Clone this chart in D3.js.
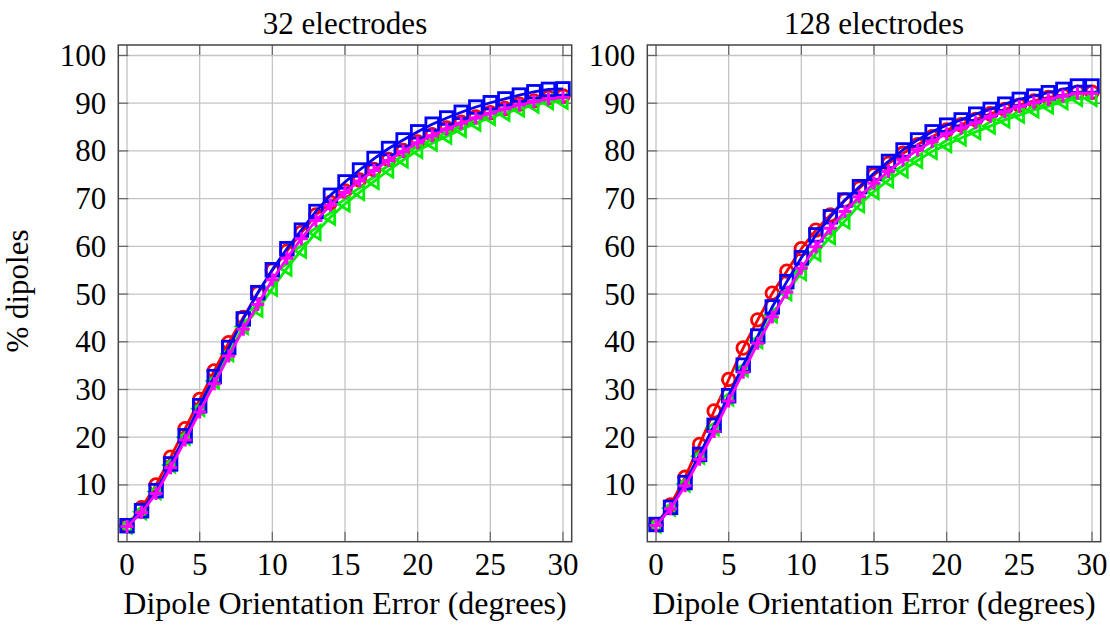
<!DOCTYPE html>
<html>
<head>
<meta charset="utf-8">
<script src="https://cdn.jsdelivr.net/npm/d3@7"></script>
<style>
  body { margin: 0; background: #fff; }
  text { font-family: "Liberation Serif", "DejaVu Serif", serif; fill: #000; }
</style>
</head>
<body>
<svg id="chart" width="1110" height="625"></svg>
<script>
// error in degrees, 0..30
var errors = d3.range(0, 31);
var xTicks = [0, 5, 10, 15, 20, 25, 30];
var yTicks = [10, 20, 30, 40, 50, 60, 70, 80, 90, 100];
var titles = ["32 electrodes", "128 electrodes"];

// 32 electrodes
var red32     = [1.5, 5.2, 10.0, 15.8, 21.8, 27.9, 33.9, 39.8, 45.1, 50.2, 55.0, 59.0, 62.9, 66.6, 69.2, 71.6, 73.9, 76.1, 78.2, 80.1, 81.9, 83.4, 84.8, 86.0, 87.1, 88.0, 88.9, 89.8, 90.5, 91.2, 91.5];
var green32   = [1.4, 4.4, 8.6, 14.2, 20.0, 26.0, 31.8, 37.5, 43.2, 46.8, 51.2, 55.4, 59.2, 62.9, 66.1, 68.9, 71.3, 73.6, 76.0, 78.1, 80.1, 81.6, 83.1, 84.5, 85.8, 87.0, 87.9, 88.8, 89.6, 90.3, 90.4];
var blue32    = [1.45, 4.6, 8.8, 14.4, 20.3, 26.6, 32.7, 38.8, 44.8, 50.3, 55.1, 59.5, 63.4, 67.3, 70.7, 73.5, 76.0, 78.4, 80.5, 82.3, 84.0, 85.6, 86.9, 88.1, 89.2, 90.1, 90.9, 91.7, 92.4, 92.9, 93.0];
var magenta32 = [1.3, 4.2, 8.2, 13.6, 19.4, 25.3, 31.2, 37.0, 42.6, 47.8, 53.0, 57.5, 61.6, 65.4, 68.6, 71.3, 73.7, 75.9, 78.0, 79.9, 81.7, 83.2, 84.6, 85.8, 86.9, 87.9, 88.8, 89.6, 90.3, 90.9, 91.2];

// 128 electrodes
var red128     = [1.7, 5.8, 11.6, 18.5, 25.5, 32.1, 38.7, 44.6, 50.2, 54.8, 59.5, 63.4, 66.6, 69.7, 72.2, 75.0, 77.4, 79.5, 81.3, 83.0, 84.4, 85.5, 86.6, 87.8, 88.7, 89.6, 90.5, 91.2, 91.7, 92.3, 92.3];
var green128   = [1.6, 5.1, 10.2, 16.0, 22.0, 28.2, 34.3, 40.2, 45.6, 50.3, 54.5, 58.5, 62.0, 65.3, 68.7, 71.5, 73.9, 76.0, 78.0, 79.9, 81.3, 82.7, 84.0, 85.2, 86.5, 87.5, 88.6, 89.4, 90.3, 91.0, 91.0];
var blue128    = [1.7, 5.3, 10.5, 16.4, 22.5, 28.7, 35.1, 41.2, 47.3, 52.6, 57.6, 62.4, 66.2, 69.7, 72.5, 75.3, 77.8, 80.2, 82.3, 84.0, 85.4, 86.5, 87.7, 88.7, 89.8, 90.8, 91.5, 92.2, 92.9, 93.6, 93.6];
var magenta128 = [1.5, 5.0, 9.8, 15.4, 21.2, 27.6, 33.6, 39.7, 45.2, 50.4, 55.4, 59.9, 63.8, 67.3, 70.4, 73.2, 75.7, 78.1, 80.2, 82.0, 83.6, 84.8, 85.9, 87.2, 88.2, 89.3, 90.1, 90.8, 91.5, 92.1, 92.1];

var panels = [
  { title: titles[0], left: 118.3, series: [red32, green32, blue32, magenta32] },
  { title: titles[1], left: 647.3, series: [red128, green128, blue128, magenta128] }
];
var colors = ["#ff0000", "#00ee00", "#0000ff", "#ff00ff"];
var markers = ["circle", "triangle", "square", "plus"];

var W = 453.4, plotTop = 45, H = 496.7;
var svg = d3.select("#chart");

function drawMarker(g, type, x, y, color) {
  var sw = 2.8;
  if (type == "circle") {
    g.append("circle").attr("cx", x).attr("cy", y).attr("r", 6.3)
      .attr("fill", "none").attr("stroke", color).attr("stroke-width", sw);
  } else if (type == "square") {
    g.append("rect").attr("x", x - 6.3).attr("y", y - 6.3).attr("width", 12.6).attr("height", 12.6)
      .attr("fill", "none").attr("stroke", color).attr("stroke-width", sw);
  } else if (type == "triangle") {
    var s = 7;
    g.append("path")
      .attr("d", "M" + (x - s) + "," + y + "L" + (x + s * 0.6) + "," + (y - s) + "L" + (x + s * 0.6) + "," + (y + s) + "Z")
      .attr("fill", "none").attr("stroke", color).attr("stroke-width", sw);
  } else {
    var p = 6.5;
    g.append("path")
      .attr("d", "M" + (x - p) + "," + y + "H" + (x + p) + "M" + x + "," + (y - p) + "V" + (y + p))
      .attr("stroke", color).attr("stroke-width", 3);
  }
}

panels.forEach(function(panel, pi) {
  var x = d3.scaleLinear().domain([-0.6, 30.6]).range([panel.left, panel.left + W]);
  var y = d3.scaleLinear().domain([-1.9, 102.2]).range([plotTop + H, plotTop]);
  var g = svg.append("g");

  // grid
  g.selectAll(".gx").data(xTicks).enter().append("line")
    .attr("x1", function(d) { return x(d); }).attr("x2", function(d) { return x(d); })
    .attr("y1", plotTop).attr("y2", plotTop + H)
    .attr("stroke", "#c4c4c4").attr("stroke-width", 1.3);
  g.selectAll(".gy").data(yTicks).enter().append("line")
    .attr("y1", function(d) { return y(d); }).attr("y2", function(d) { return y(d); })
    .attr("x1", panel.left).attr("x2", panel.left + W)
    .attr("stroke", "#c4c4c4").attr("stroke-width", 1.3);

  // inner ticks on all four sides
  var tk = 10, tc = "#666";
  xTicks.forEach(function(d) {
    g.append("line").attr("x1", x(d)).attr("x2", x(d)).attr("y1", plotTop + H).attr("y2", plotTop + H - tk).attr("stroke", tc).attr("stroke-width", 1.2);
    g.append("line").attr("x1", x(d)).attr("x2", x(d)).attr("y1", plotTop).attr("y2", plotTop + tk).attr("stroke", tc).attr("stroke-width", 1.2);
  });
  yTicks.forEach(function(d) {
    g.append("line").attr("x1", panel.left).attr("x2", panel.left + tk).attr("y1", y(d)).attr("y2", y(d)).attr("stroke", tc).attr("stroke-width", 1.2);
    g.append("line").attr("x1", panel.left + W).attr("x2", panel.left + W - tk).attr("y1", y(d)).attr("y2", y(d)).attr("stroke", tc).attr("stroke-width", 1.2);
  });

  // series
  var line = d3.line().x(function(d, i) { return x(errors[i]); }).y(function(d) { return y(d); });
  panel.series.forEach(function(vals, si) {
    var sg = g.append("g");
    sg.append("path").datum(vals).attr("d", line)
      .attr("fill", "none").attr("stroke", colors[si]).attr("stroke-width", 2.8);
    vals.forEach(function(v, i) { drawMarker(sg, markers[si], x(errors[i]), y(v), colors[si]); });
  });

  // frame
  g.append("rect").attr("x", panel.left).attr("y", plotTop).attr("width", W).attr("height", H)
    .attr("fill", "none").attr("stroke", "#444").attr("stroke-width", 1.5);

  // tick labels
  g.selectAll(".xl").data(xTicks).enter().append("text")
    .attr("x", function(d) { return x(d); }).attr("y", 575)
    .attr("text-anchor", "middle").attr("font-size", 31).text(function(d) { return d; });
  g.selectAll(".yl").data(yTicks).enter().append("text")
    .attr("x", panel.left - 12).attr("y", function(d) { return y(d) + 10.5; })
    .attr("text-anchor", "end").attr("font-size", 31).text(function(d) { return d; });

  g.append("text").attr("x", panel.left + W / 2).attr("y", 34)
    .attr("text-anchor", "middle").attr("font-size", 31).text(panel.title);
  g.append("text").attr("x", panel.left + W / 2).attr("y", 614)
    .attr("text-anchor", "middle").attr("font-size", 32).text("Dipole Orientation Error (degrees)");
});

svg.append("text").attr("transform", "translate(28,291) rotate(-90)")
  .attr("text-anchor", "middle").attr("font-size", 31).text("% dipoles");
</script>
</body>
</html>
